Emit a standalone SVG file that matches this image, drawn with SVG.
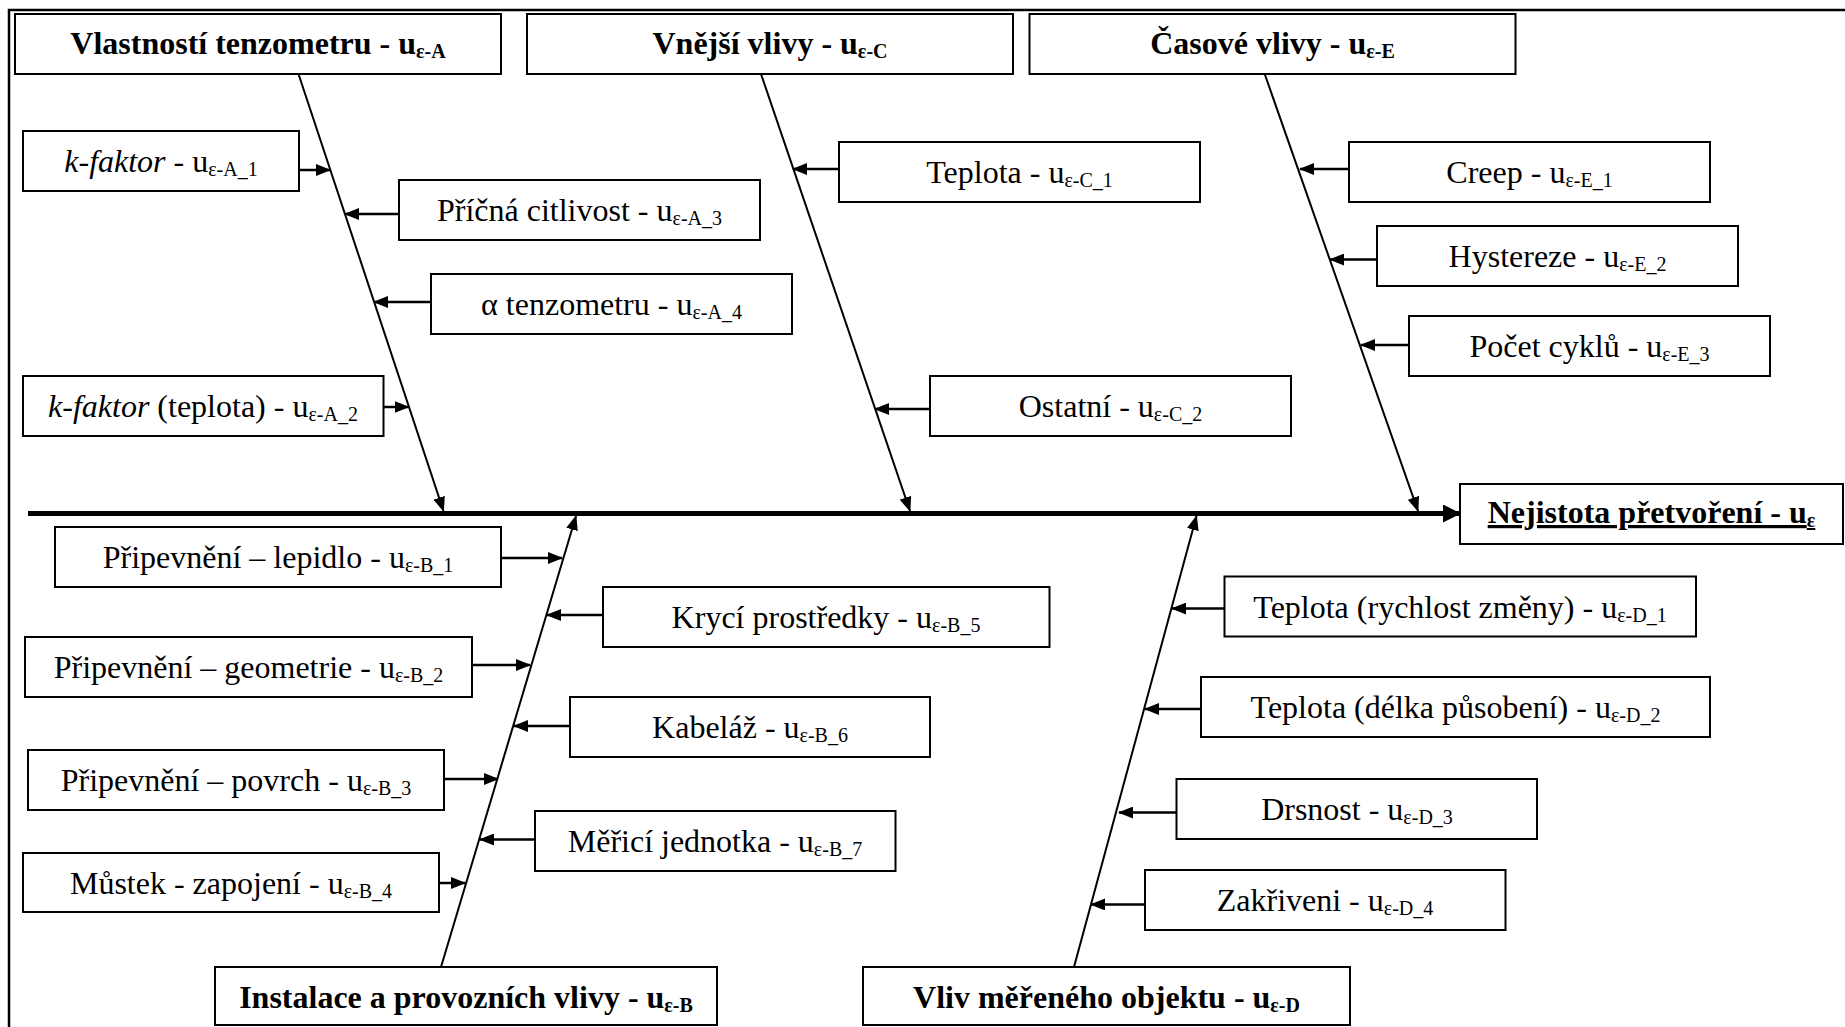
<svg xmlns="http://www.w3.org/2000/svg" width="1845" height="1027" viewBox="0 0 1845 1027">
<style>
.box{fill:#fff;stroke:#000;stroke-width:2}
.t{font-family:"Liberation Serif","Times New Roman",serif;font-size:32px;text-anchor:middle;fill:#000}
.h{font-weight:bold}
.s{font-size:20px}
.i{font-style:italic}
.u{text-decoration:underline}
.bone{stroke:#000;stroke-width:2;fill:none;marker-end:url(#ah)}
.ar{stroke:#000;stroke-width:2.5;fill:none;marker-end:url(#ah)}
.spine{stroke:#000;stroke-width:5;fill:none;marker-end:url(#big)}
</style>
<defs>
<marker id="ah" markerUnits="userSpaceOnUse" markerWidth="15" markerHeight="12" viewBox="0 0 15 12" refX="14" refY="6" orient="auto"><path d="M0,0 L15,6 L0,12 z" fill="#000"/></marker>
<marker id="big" markerUnits="userSpaceOnUse" markerWidth="18" markerHeight="18" viewBox="0 0 18 18" refX="16" refY="9" orient="auto"><path d="M0,0 L18,9 L0,18 z" fill="#000"/></marker>
</defs>
<rect width="1845" height="1027" fill="#fff"/>
<path d="M9,1035 V10 H1850" fill="none" stroke="#000" stroke-width="2.5"/>

<g id="connectors">
<path class="spine" d="M28,513.5 H1459"/>
<path class="bone" d="M298.5,74 L443.5,511"/>
<path class="bone" d="M761,74 L910,511"/>
<path class="bone" d="M1264.7,74 L1418,511"/>
<path class="bone" d="M441,967 L576,516"/>
<path class="bone" d="M1074,967 L1196.5,516"/>
<path class="ar" d="M299,170 H330"/>
<path class="ar" d="M399,214 H345"/>
<path class="ar" d="M431,302 H374"/>
<path class="ar" d="M383.5,407 H408.5"/>
<path class="ar" d="M839,169 H793"/>
<path class="ar" d="M930,409 H875"/>
<path class="ar" d="M1349,169 H1300"/>
<path class="ar" d="M1377,259.6 H1330"/>
<path class="ar" d="M1409,345 H1361"/>
<path class="ar" d="M501,558 H562"/>
<path class="ar" d="M603,615 H547"/>
<path class="ar" d="M472,665 H530"/>
<path class="ar" d="M570,726 H514"/>
<path class="ar" d="M444,779 H498"/>
<path class="ar" d="M535,839.5 H480"/>
<path class="ar" d="M439,883 H465"/>
<path class="ar" d="M1224.5,608.6 H1172"/>
<path class="ar" d="M1201,709 H1145"/>
<path class="ar" d="M1176.5,812.6 H1119"/>
<path class="ar" d="M1145,904.4 H1091"/>
</g>

<g id="hA"><rect class="box" x="15" y="14" width="486" height="60"/><text class="t h" x="258" y="54">Vlastností tenzometru - u<tspan class="s" dy="4">ε-A</tspan></text></g>
<g id="hC"><rect class="box" x="527" y="14" width="486" height="60"/><text class="t h" x="770" y="54">Vnější vlivy - u<tspan class="s" dy="4">ε-C</tspan></text></g>
<g id="hE"><rect class="box" x="1029.5" y="14" width="486" height="60"/><text class="t h" x="1272.5" y="54">Časové vlivy - u<tspan class="s" dy="4">ε-E</tspan></text></g>
<g id="hB"><rect class="box" x="215" y="967" width="502" height="58"/><text class="t h" x="466" y="1008">Instalace a provozních vlivy - u<tspan class="s" dy="4">ε-B</tspan></text></g>
<g id="hD"><rect class="box" x="863" y="967" width="487" height="58"/><text class="t h" x="1106.5" y="1008">Vliv měřeného objektu - u<tspan class="s" dy="4">ε-D</tspan></text></g>
<g id="result"><rect class="box" x="1460" y="484" width="383" height="60"/><text class="t h u" x="1651.5" y="523">Nejistota přetvoření - u<tspan class="s" dy="4">ε</tspan></text></g>

<g id="A1"><rect class="box" x="23" y="131" width="276" height="60"/><text class="t" x="161" y="172"><tspan class="i">k-faktor</tspan> - u<tspan class="s" dy="4">ε-A_1</tspan></text></g>
<g id="A3"><rect class="box" x="399" y="180" width="361" height="60"/><text class="t" x="579.5" y="221">Příčná citlivost - u<tspan class="s" dy="4">ε-A_3</tspan></text></g>
<g id="A4"><rect class="box" x="431" y="274" width="361" height="60"/><text class="t" x="611.5" y="315">α tenzometru - u<tspan class="s" dy="4">ε-A_4</tspan></text></g>
<g id="A2"><rect class="box" x="23" y="376" width="360.5" height="60"/><text class="t" x="203" y="417"><tspan class="i">k-faktor</tspan> (teplota) - u<tspan class="s" dy="4">ε-A_2</tspan></text></g>
<g id="C1"><rect class="box" x="839" y="142" width="361" height="60"/><text class="t" x="1019.5" y="183">Teplota - u<tspan class="s" dy="4">ε-C_1</tspan></text></g>
<g id="C2"><rect class="box" x="930" y="376" width="361" height="60"/><text class="t" x="1110.5" y="417">Ostatní - u<tspan class="s" dy="4">ε-C_2</tspan></text></g>
<g id="E1"><rect class="box" x="1349" y="142" width="361" height="60"/><text class="t" x="1529.5" y="183">Creep - u<tspan class="s" dy="4">ε-E_1</tspan></text></g>
<g id="E2"><rect class="box" x="1377" y="226" width="361" height="60"/><text class="t" x="1557.5" y="267">Hystereze - u<tspan class="s" dy="4">ε-E_2</tspan></text></g>
<g id="E3"><rect class="box" x="1409" y="316" width="361" height="60"/><text class="t" x="1589.5" y="357">Počet cyklů - u<tspan class="s" dy="4">ε-E_3</tspan></text></g>
<g id="B1"><rect class="box" x="55" y="527" width="446" height="60"/><text class="t" x="278" y="568">Připevnění – lepidlo - u<tspan class="s" dy="4">ε-B_1</tspan></text></g>
<g id="B5"><rect class="box" x="603" y="587" width="446.5" height="60"/><text class="t" x="826" y="628">Krycí prostředky - u<tspan class="s" dy="4">ε-B_5</tspan></text></g>
<g id="B2"><rect class="box" x="25" y="637" width="447" height="60"/><text class="t" x="248.5" y="678">Připevnění – geometrie - u<tspan class="s" dy="4">ε-B_2</tspan></text></g>
<g id="B6"><rect class="box" x="570" y="697" width="360" height="60"/><text class="t" x="750" y="738">Kabeláž - u<tspan class="s" dy="4">ε-B_6</tspan></text></g>
<g id="B3"><rect class="box" x="28" y="750" width="416" height="60"/><text class="t" x="236" y="791">Připevnění – povrch - u<tspan class="s" dy="4">ε-B_3</tspan></text></g>
<g id="B7"><rect class="box" x="535" y="811" width="360.5" height="60"/><text class="t" x="715" y="852">Měřicí jednotka - u<tspan class="s" dy="4">ε-B_7</tspan></text></g>
<g id="B4"><rect class="box" x="23" y="853" width="416" height="59"/><text class="t" x="231" y="894">Můstek - zapojení - u<tspan class="s" dy="4">ε-B_4</tspan></text></g>
<g id="D1"><rect class="box" x="1224.5" y="576.5" width="471.5" height="60"/><text class="t" x="1460" y="618">Teplota (rychlost změny) - u<tspan class="s" dy="4">ε-D_1</tspan></text></g>
<g id="D2"><rect class="box" x="1201" y="677" width="509" height="60"/><text class="t" x="1455.5" y="718">Teplota (délka působení) - u<tspan class="s" dy="4">ε-D_2</tspan></text></g>
<g id="D3"><rect class="box" x="1176.5" y="779" width="360.5" height="60"/><text class="t" x="1357" y="820">Drsnost - u<tspan class="s" dy="4">ε-D_3</tspan></text></g>
<g id="D4"><rect class="box" x="1145" y="870" width="360.5" height="60"/><text class="t" x="1325" y="911">Zakřiveni - u<tspan class="s" dy="4">ε-D_4</tspan></text></g>
</svg>
